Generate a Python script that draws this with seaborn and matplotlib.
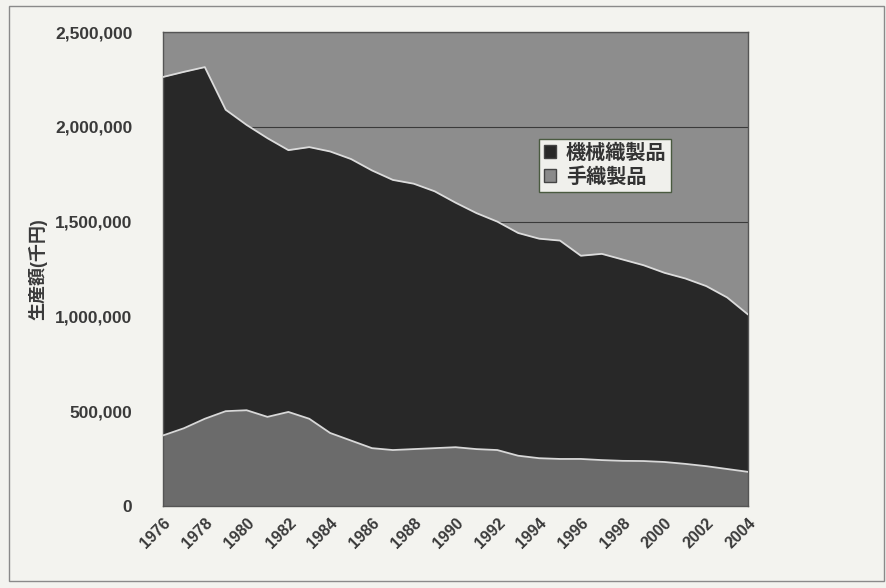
import numpy as np
import pandas as pd
import matplotlib
matplotlib.use("Agg")
import matplotlib.pyplot as plt
from matplotlib.patches import Rectangle
import seaborn as sns

# Data (thousand yen)
years = list(range(1976, 2005))
total_output = [2263000, 2290000, 2315000, 2090000, 2010000, 1940000, 1877000, 1893000,
                1870000, 1830000, 1770000, 1720000, 1700000, 1660000, 1600000, 1545000,
                1500000, 1440000, 1410000, 1400000, 1320000, 1330000, 1300000, 1270000,
                1230000, 1200000, 1160000, 1100000, 1010000]
hand_woven = [372000, 410000, 460000, 500000, 505000, 470000, 496000, 460000,
              385000, 345000, 305000, 295000, 300000, 305000, 310000, 300000,
              295000, 265000, 252000, 248000, 248000, 242000, 238000, 237000,
              232000, 222000, 210000, 195000, 180000]
machine_woven = [t - h for t, h in zip(total_output, hand_woven)]
series_names = ["機械織製品", "手織製品"]
y_ticks = [0, 500000, 1000000, 1500000, 2000000, 2500000]
x_ticks = list(range(1976, 2005, 2))

df = pd.DataFrame({"year": years, "hand": hand_woven, "total": total_output})

sns.set_theme(style="white")
plt.rcParams["font.family"] = ["Liberation Sans", "Noto Sans CJK JP", "DejaVu Sans"]

fig = plt.figure(figsize=(8.87, 5.88), dpi=100)
fig.patch.set_facecolor("#f3f3ef")
# outer chart frame
fig.add_artist(Rectangle((0.010, 0.012), 0.987, 0.978, transform=fig.transFigure,
                         fill=False, edgecolor="#8a8a8a", linewidth=1.0))

ax = fig.add_axes([0.1838, 0.1395, 0.6595, 0.806])
ax.set_facecolor("#8d8d8d")

# gridlines under the areas
for v in y_ticks[1:]:
    ax.axhline(v, color="#3a3a3a", linewidth=0.8, zorder=1)

ax.stackplot(df["year"], hand_woven, machine_woven,
             colors=["#6b6b6b", "#282828"], zorder=2, linewidth=0)
sns.lineplot(data=df, x="year", y="hand", ax=ax, color="#d8d8d8", linewidth=1.3, zorder=3)
sns.lineplot(data=df, x="year", y="total", ax=ax, color="#dcdcdc", linewidth=1.3, zorder=3)

ax.set_xlim(1976, 2004)
ax.set_ylim(0, 2500000)
ax.set_yticks(y_ticks)
ax.set_yticklabels([f"{v:,}" for v in y_ticks], fontsize=12.5, color="#3a3a3a",
                   fontweight="bold")
ax.set_xticks(x_ticks)
ax.set_xticklabels([str(x) for x in x_ticks], rotation=45, ha="right",
                   rotation_mode="anchor", fontsize=11.5, color="#3a3a3a",
                   fontweight="bold")
ax.tick_params(axis="x", length=3, color="#555555", pad=4)
ax.tick_params(axis="y", length=0, pad=22)
ax.set_xlabel("")
ax.set_ylabel("生産額(千円)", fontsize=13, color="#3a3a3a", fontweight="bold")
ax.yaxis.set_label_coords(-0.198, 0.5)
for s in ax.spines.values():
    s.set_color("#555555")
    s.set_linewidth(1.0)

# legend
handles = [Rectangle((0, 0), 1, 1, facecolor="#282828", edgecolor="#444444"),
           Rectangle((0, 0), 1, 1, facecolor="#8a8a8a", edgecolor="#444444")]
leg = ax.legend(handles, series_names, loc="upper left", bbox_to_anchor=(0.642, 0.775),
                fontsize=14.5, frameon=True, fancybox=False, handlelength=0.6,
                handleheight=0.6, handletextpad=0.5, borderpad=0.25, labelspacing=0.2,
                borderaxespad=0, prop={"weight": "bold", "size": 14.5})
leg.get_frame().set_facecolor("#f0f0ec")
leg.get_frame().set_edgecolor("#4a5a40")
leg.get_frame().set_alpha(1)
for t in leg.get_texts():
    t.set_color("#333333")

fig.savefig("out.png", dpi=100, facecolor=fig.get_facecolor())
